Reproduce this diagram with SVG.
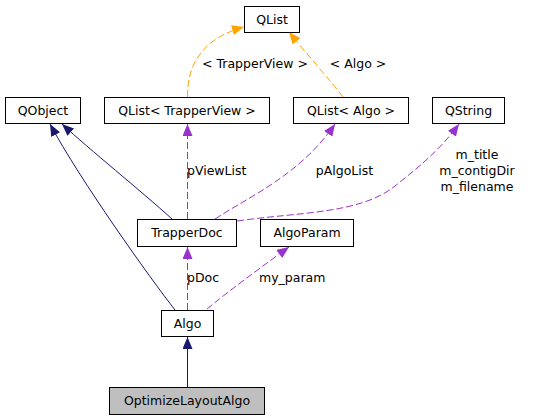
<svg xmlns="http://www.w3.org/2000/svg" width="553" height="419" viewBox="0 0 553 419">
<style>
.node rect{fill:#ffffff;stroke:#000000;stroke-width:1}
.node text{font-family:"DejaVu Sans",sans-serif;font-size:12.5px;fill:#000000;text-anchor:middle}
.lbl{font-family:"DejaVu Sans",sans-serif;font-size:12.5px;fill:#000000}
.inh{fill:none;stroke:#191970;stroke-width:1}
.use{fill:none;stroke:#9a32cd;stroke-width:1;stroke-dasharray:7,3}
.tpl{fill:none;stroke:#ffa500;stroke-width:1;stroke-dasharray:7,3}
</style>
<defs>
<marker id="aInh" markerUnits="userSpaceOnUse" viewBox="0 0 12 10" refX="12" refY="5" markerWidth="12" markerHeight="10" orient="auto"><path d="M0,0 L12,5 L0,10 z" fill="#191970"/></marker>
<marker id="aUse" markerUnits="userSpaceOnUse" viewBox="0 0 12 10" refX="12" refY="5" markerWidth="12" markerHeight="10" orient="auto"><path d="M0,0 L12,5 L0,10 z" fill="#9a32cd"/></marker>
<marker id="aTpl" markerUnits="userSpaceOnUse" viewBox="0 0 12 10" refX="12" refY="5" markerWidth="12" markerHeight="10" orient="auto"><path d="M0,0 L12,5 L0,10 z" fill="#ffa500"/></marker>
</defs>
<g id="connectors">
<path class="inh" d="M175,310 C150,278 80,180 50,124" marker-end="url(#aInh)"/>
<path class="inh" d="M172,219 C140,190 90,150 62,124" marker-end="url(#aInh)"/>
<path class="use" d="M187.5,219 L187.5,124" marker-end="url(#aUse)"/>
<path class="use" d="M215,219 C250,196 300,175 335,124" marker-end="url(#aUse)"/>
<path class="use" d="M237,221 C300,212 360,214 395,186 C420,166 440,150 459,124" marker-end="url(#aUse)"/>
<path class="tpl" d="M187.5,97 C187,60 207,37 244,27" marker-end="url(#aTpl)"/>
<path class="tpl" d="M343,97 C330,80 305,52 289,32" marker-end="url(#aTpl)"/>
<path class="use" d="M187.5,310 L187.5,247" marker-end="url(#aUse)"/>
<path class="use" d="M207,309 C230,290 260,268 289,247" marker-end="url(#aUse)"/>
<path class="inh" d="M187.5,387 L187.5,337" marker-end="url(#aInh)"/>
<text class="lbl" x="255" y="68" text-anchor="middle">&lt; TrapperView &gt;</text>
<text class="lbl" x="358" y="68" text-anchor="middle">&lt; Algo &gt;</text>
<text class="lbl" x="187" y="175">pViewList</text>
<text class="lbl" x="344.5" y="175" text-anchor="middle">pAlgoList</text>
<text class="lbl" x="477" y="159" text-anchor="middle">m_title</text>
<text class="lbl" x="477" y="175" text-anchor="middle">m_contigDir</text>
<text class="lbl" x="477" y="191" text-anchor="middle">m_filename</text>
<text class="lbl" x="187" y="282">pDoc</text>
<text class="lbl" x="259" y="282">my_param</text>
</g>
<g id="QList" class="node"><rect x="244.5" y="6.5" width="55" height="26"/><text x="272" y="24">QList</text></g>
<g id="QObject" class="node"><rect x="5.5" y="97.5" width="75" height="26"/><text x="43" y="115">QObject</text></g>
<g id="QListTrapperView" class="node"><rect x="104.5" y="97.5" width="165" height="26"/><text x="187" y="115">QList&lt; TrapperView &gt;</text></g>
<g id="QListAlgo" class="node"><rect x="293.5" y="97.5" width="115" height="26"/><text x="351" y="115">QList&lt; Algo &gt;</text></g>
<g id="QString" class="node"><rect x="432.5" y="97.5" width="72" height="26"/><text x="468.5" y="115">QString</text></g>
<g id="TrapperDoc" class="node"><rect x="137.5" y="219.5" width="99" height="27"/><text x="187" y="237">TrapperDoc</text></g>
<g id="AlgoParam" class="node"><rect x="260.5" y="219.5" width="93" height="27"/><text x="307" y="237">AlgoParam</text></g>
<g id="Algo" class="node"><rect x="161.5" y="310.5" width="52" height="26"/><text x="187.5" y="328">Algo</text></g>
<g id="OptimizeLayoutAlgo" class="node"><rect x="109.5" y="387.5" width="155" height="27" style="fill:#bfbfbf"/><text x="187" y="405">OptimizeLayoutAlgo</text></g>
</svg>
